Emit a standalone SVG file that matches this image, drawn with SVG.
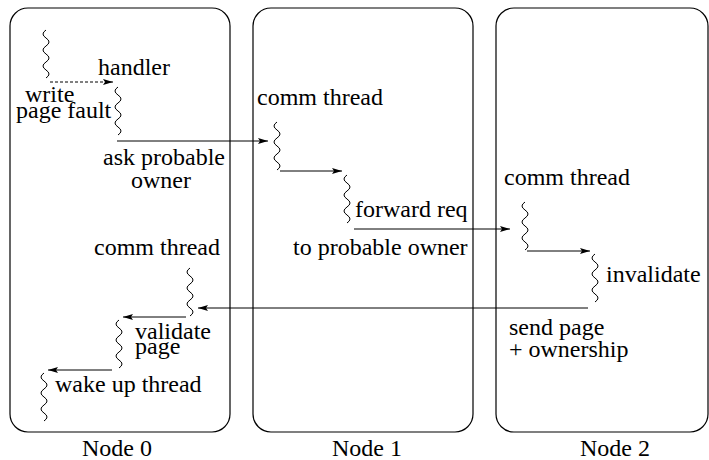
<svg xmlns="http://www.w3.org/2000/svg" xmlns:xlink="http://www.w3.org/1999/xlink" width="709" height="460" viewBox="0 0 709 460">
<style>
  .box { fill: none; stroke: #000; stroke-width: 1.2; }
  .sq { fill: none; stroke: #000; stroke-width: 1; }
  .t { font-family: "Liberation Serif", "Times New Roman", serif; font-size: 24px; fill: #000; }
  .arr { fill: none; stroke: #000; stroke-width: 1; marker-end: url(#ah); }
  .dot { stroke-dasharray: 3 2; }
</style>
<defs>
  <marker id="ah" viewBox="0 0 10 6" refX="10" refY="3" markerWidth="10" markerHeight="6" markerUnits="userSpaceOnUse" orient="auto">
    <path d="M0,0 L10,3 L0,6 L2,3 Z" fill="#000"/>
  </marker>
  <path id="sq" class="sq" d="M0,0 q-6,4 0,8 t0,8 t0,8 t0,8 t0,8 t0,8"/>
</defs>
<rect width="709" height="460" fill="#fff"/>
<g id="node0">
  <rect class="box" x="10" y="8" width="220" height="424" rx="18" ry="18"/>
  <text class="t" x="82" y="456">Node 0</text>
  <use href="#sq" x="46" y="30"/>
  <text class="t" x="98" y="75">handler</text>
  <use href="#sq" x="118" y="87"/>
  <text class="t" x="25" y="102">write</text>
  <text class="t" x="16" y="118">page fault</text>
  <text class="t" x="103" y="165">ask probable</text>
  <text class="t" x="131" y="188">owner</text>
  <text class="t" x="94" y="255">comm thread</text>
  <use href="#sq" x="190" y="268"/>
  <use href="#sq" x="119" y="320"/>
  <text class="t" x="135" y="339">validate</text>
  <text class="t" x="135" y="354">page</text>
  <use href="#sq" x="44" y="373"/>
  <text class="t" x="55" y="392">wake up thread</text>
</g>
<g id="node1">
  <rect class="box" x="253" y="8" width="220" height="424" rx="18" ry="18"/>
  <text class="t" x="332" y="456">Node 1</text>
  <text class="t" x="257" y="105">comm thread</text>
  <use href="#sq" x="277" y="122"/>
  <use href="#sq" x="347" y="175"/>
  <text class="t" x="355" y="217">forward req</text>
  <text class="t" x="293" y="255">to probable owner</text>
</g>
<g id="node2">
  <rect class="box" x="496" y="8" width="212" height="424" rx="18" ry="18"/>
  <text class="t" x="580" y="456">Node 2</text>
  <text class="t" x="504" y="185">comm thread</text>
  <use href="#sq" x="525" y="202"/>
  <use href="#sq" x="595" y="254"/>
  <text class="t" x="606" y="282">invalidate</text>
  <text class="t" x="509" y="335">send page</text>
  <text class="t" x="509" y="357">+ ownership</text>
</g>
<g id="connectors">
  <line class="arr dot" x1="50" y1="82" x2="113" y2="82"/>
  <line class="arr" x1="117" y1="141" x2="268" y2="141"/>
  <line class="arr" x1="280" y1="171" x2="342" y2="171"/>
  <line class="arr" x1="354" y1="229" x2="510" y2="229"/>
  <line class="arr" x1="527" y1="251" x2="590" y2="251"/>
  <line class="arr" x1="588" y1="308" x2="198" y2="308"/>
  <line class="arr" x1="186" y1="317" x2="123" y2="317"/>
  <line class="arr" x1="112" y1="370" x2="48" y2="370"/>
</g>
</svg>
